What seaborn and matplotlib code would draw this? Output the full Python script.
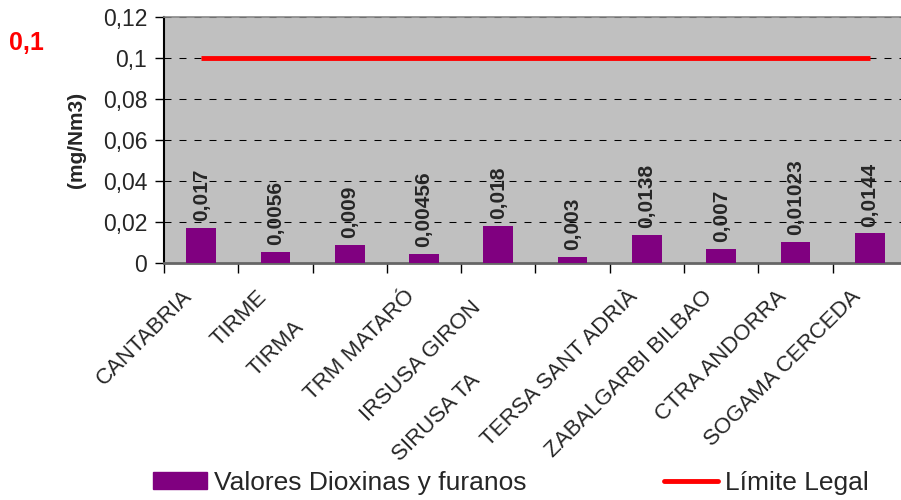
import numpy as np
import matplotlib.pyplot as plt
import seaborn as sns
from matplotlib.lines import Line2D
from matplotlib.patches import Patch
from matplotlib.ticker import FuncFormatter
from matplotlib.transforms import ScaledTranslation

plants = ['CANTABRIA', 'TIRME', 'TIRMA', 'TRM MATARÓ', 'IRSUSA GIRON', 'SIRUSA TA',
          'TERSA SANT ADRIÀ', 'ZABALGARBI BILBAO', 'CTRA ANDORRA', 'SOGAMA CERCEDA']
dioxins = [0.017, 0.0056, 0.009, 0.00456, 0.018, 0.003, 0.0138, 0.007, 0.01023, 0.0144]
legal_limit = [0.1] * 10
yticks = [0, 0.02, 0.04, 0.06, 0.08, 0.1, 0.12]

sns.set_style('white')
plt.rcParams['font.family'] = ['Liberation Sans', 'DejaVu Sans']

fig = plt.figure(figsize=(9.01, 5.0), dpi=100)
ax = fig.add_axes([0.182, 0.474, 0.8246, 0.492])
ax.set_facecolor('#c0c0c0')

sns.barplot(x=plants, y=dioxins, color='#800080', saturation=1, width=0.4,
            linewidth=0, ax=ax, zorder=3)
ax.plot(np.arange(len(plants)), legal_limit, color='#ff0000', lw=3.5,
        solid_capstyle='butt', zorder=4)

ax.bar_label(ax.containers[0], labels=[str(v).replace('.', ',') for v in dioxins],
             rotation=90, padding=5, fontsize=15, fontweight='bold')

# y axis
ax.set_ylim(0, 0.12)
ax.set_yticks(yticks)
ax.yaxis.set_major_formatter(FuncFormatter(lambda v, p: f'{v:g}'.replace('.', ',')))
ax.tick_params(axis='y', length=6.5, width=1, color='black', pad=5.5, labelsize=16.5, left=True)
ax.yaxis.grid(True, color='black', lw=0.75, linestyle=(0, (6.7, 7.7)))
ax.set_axisbelow(True)
ax.set_ylabel('(mg/Nm3)', fontsize=15, fontweight='bold', labelpad=12)

# x axis
ax.set_xlim(-0.5, len(plants) - 0.5)
ax.set_xticks(range(len(plants)))
ax.set_xticklabels(plants, rotation=45, ha='right', va='center', rotation_mode='anchor')
ax.set_xticks(np.arange(-0.5, len(plants), 1), minor=True)
ax.tick_params(axis='x', which='major', length=0, pad=22, labelsize=16)
ax.tick_params(axis='x', which='minor', length=7, width=1, color='black', bottom=True)
ax.set_xlabel('')

for side in ['right']:
    ax.spines[side].set_visible(False)
ax.spines['left'].set_color('black')
ax.spines['left'].set_linewidth(1.5)
ax.spines['bottom'].set_color('#666666')
ax.spines['bottom'].set_linewidth(2)
ax.spines['top'].set_color('#888888')
ax.spines['top'].set_linewidth(1.2)

fig.text(9 / 901, 1 - 43 / 500, '0,1', color='#ff0000', fontsize=18,
         fontweight='bold', ha='left', va='center')

handles = [Patch(color='#800080'),
           Line2D([], [], color='#ff0000', lw=3.5, solid_capstyle='round')]
fig.legend(handles, ['Valores Dioxinas y furanos', 'Límite Legal'], ncol=2,
           frameon=False, fontsize=19, loc='center left',
           bbox_to_anchor=(153 / 901, 1 - 483 / 500), borderpad=0, borderaxespad=0,
           handlelength=2.05, handleheight=0.64, handletextpad=0.27, columnspacing=5.2)

# shift the tick labels the way the original layout staggers them
fig.canvas.draw()
shifts = {2: (-26.6, -22.3), 4: (-6.5, -7.9), 5: (-60, -60)}
for tick, name in zip(ax.xaxis.get_major_ticks(), plants):
    lab = tick.label1
    dx, dy = shifts.get(plants.index(lab.get_text()), (0, 0))
    lab.set_transform(lab.get_transform() +
                      ScaledTranslation((dx - 8.6) / 72, dy / 72, fig.dpi_scale_trans))

fig.savefig('out.png', dpi=100)
